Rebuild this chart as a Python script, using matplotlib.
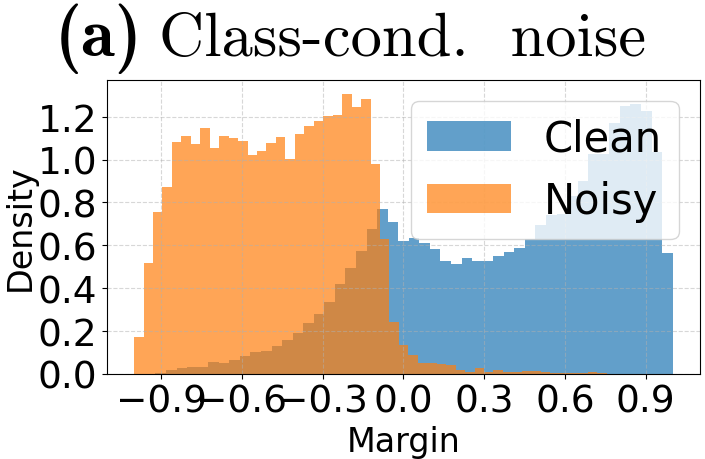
import numpy as np
import matplotlib
matplotlib.use("Agg")
import matplotlib.pyplot as plt

# ---- data ----
series_labels = ["Clean", "Noisy"]
clean_range = (-0.96, 1.0)
noisy_range = (-1.0, 0.756)
clean_density = [0.0, 0.003, 0.019, 0.026, 0.033, 0.034, 0.054, 0.052, 0.065, 0.086,
                 0.103, 0.106, 0.132, 0.160, 0.190, 0.238, 0.279, 0.335, 0.420, 0.495,
                 0.573, 0.675, 0.770, 0.708, 0.619, 0.633, 0.612, 0.584, 0.529, 0.512,
                 0.543, 0.526, 0.526, 0.552, 0.571, 0.587, 0.630, 0.695, 0.740, 0.745,
                 0.829, 0.900, 1.027, 1.027, 1.170, 1.248, 1.260, 1.226, 1.035, 0.565]
noisy_density = [0.173, 0.518, 0.755, 0.872, 1.082, 1.108, 1.075, 1.149, 1.052, 1.108,
                 1.099, 1.085, 1.023, 1.040, 1.079, 1.104, 1.001, 1.119, 1.156, 1.180,
                 1.203, 1.209, 1.306, 1.244, 1.284, 0.981, 0.632, 0.243, 0.135, 0.090,
                 0.050, 0.053, 0.045, 0.044, 0.017, 0.011, 0.030, 0.011, 0.020, 0.008,
                 0.008, 0.016, 0.012, 0.008, 0.005, 0.005, 0.003, 0.006, 0.009, 0.005]
xticks = [-0.9, -0.6, -0.3, 0.0, 0.3, 0.6, 0.9]
yticks = [0.0, 0.2, 0.4, 0.6, 0.8, 1.0, 1.2]
title_tag = "(a)"
title_text = "Class-cond.  noise"
xlabel = "Margin"
ylabel = "Density"

fig = plt.figure(figsize=(7.05, 4.6), dpi=100)
ax = fig.add_axes([0.1520, 0.1848, 0.8403, 0.6391])

for dens, rng, lab in [(clean_density, clean_range, series_labels[0]),
                       (noisy_density, noisy_range, series_labels[1])]:
    edges = np.linspace(rng[0], rng[1], len(dens) + 1)
    centers = 0.5 * (edges[:-1] + edges[1:])
    ax.hist(centers, bins=edges, weights=dens, alpha=0.7, label=lab)

ax.set_xticks(xticks)
ax.set_yticks(yticks)
ax.tick_params(axis="both", labelsize=27)
ax.set_xlabel(xlabel, fontsize=24)
ax.set_ylabel(ylabel, fontsize=24, labelpad=1)
ax.grid(True, linestyle="--", alpha=0.5)
ax.legend(loc="upper right", fontsize=30)

# title: bold tag + roman text, placed side by side
renderer = fig.canvas.get_renderer()
x0 = 55 / 705
yb = 0.878
t1 = fig.text(x0, yb, title_tag, fontfamily="cmb10", fontsize=50,
              ha="left", va="baseline")
bb = t1.get_window_extent(renderer)
x1 = (bb.x1 + 16) / fig.bbox.width
fig.text(x1, yb, title_text, fontfamily="cmr10", fontsize=45,
         ha="left", va="baseline")

fig.savefig("out.png", dpi=100)
